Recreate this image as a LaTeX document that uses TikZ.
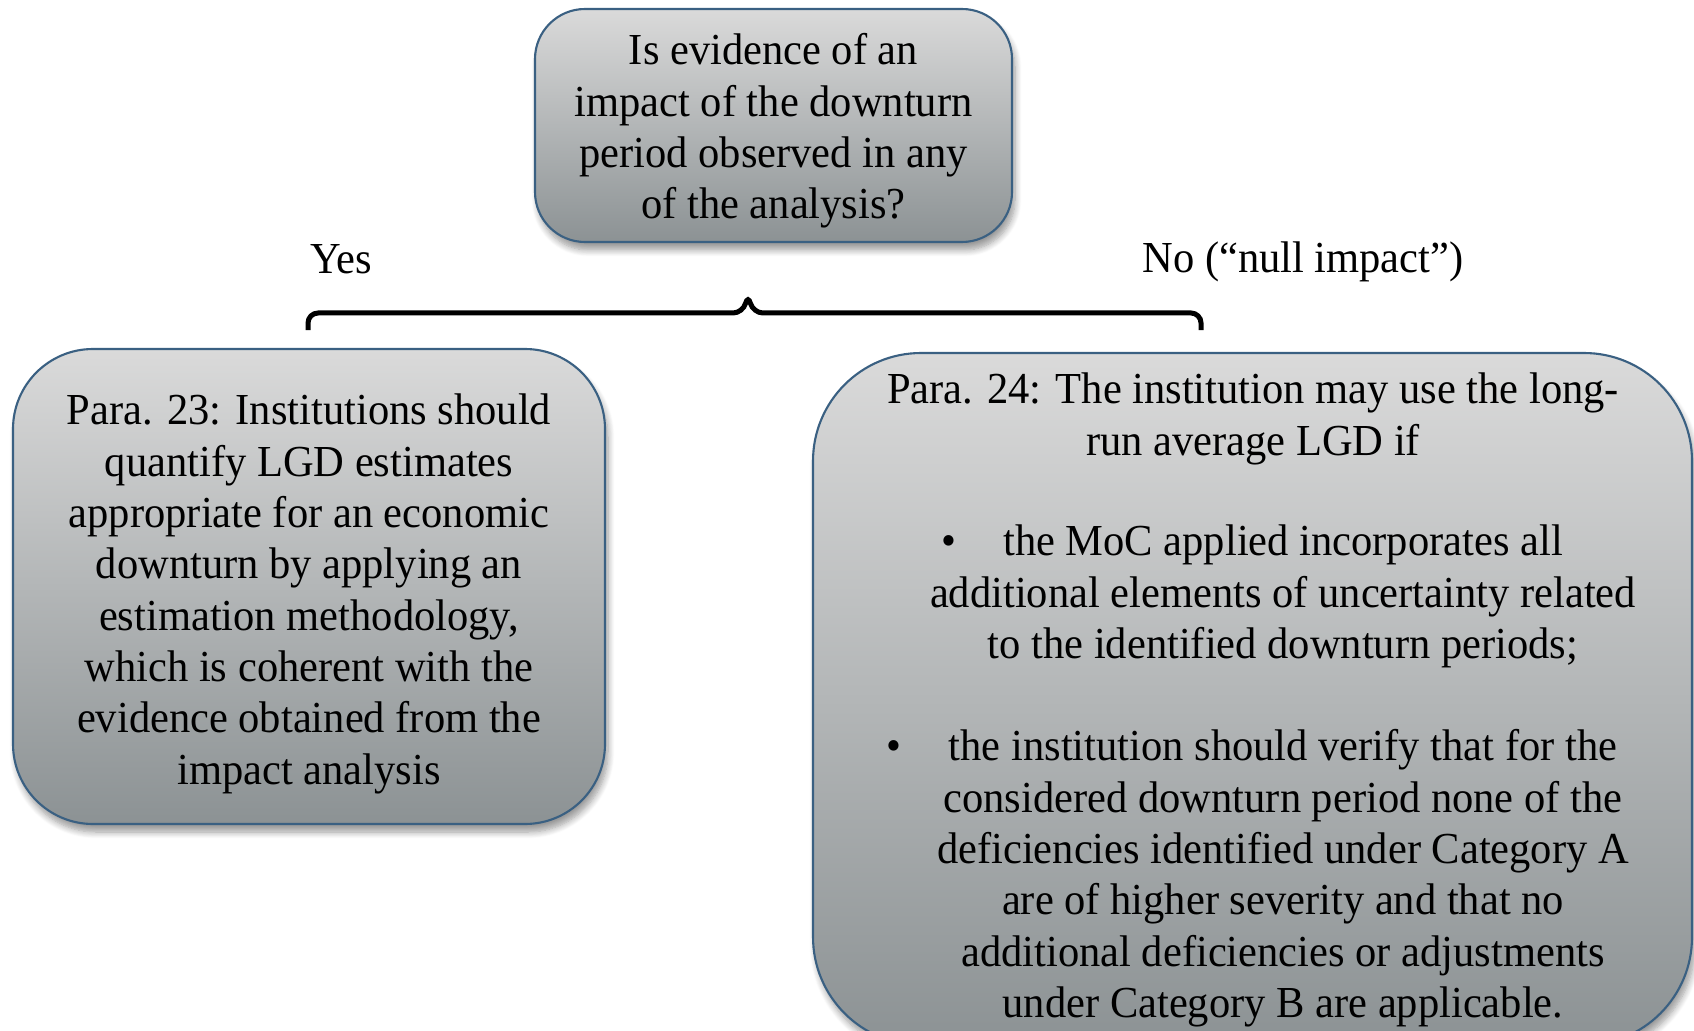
\documentclass[tikz,border=0pt]{standalone}
\usepackage{fontspec}
\setmainfont[FakeStretch=0.96]{Liberation Serif}
\usetikzlibrary{shadows.blur}

\definecolor{boxtop}{RGB}{218,218,218}
\definecolor{boxbottom}{RGB}{140,146,148}
\definecolor{boxedge}{RGB}{58,96,130}

\tikzset{
  greybox/.style={draw=boxedge, line width=0.6pt, top color=boxtop, bottom color=boxbottom,
    rounded corners=#1,
    blur shadow={shadow xshift=0.3mm, shadow yshift=-0.8mm, shadow blur steps=8, shadow opacity=40}},
  bracket/.style={line width=0.5mm, rounded corners=1mm}
}

\begin{document}
\begin{tikzpicture}[x=0.1mm, y=-0.1mm, every node/.style={font=\fontsize{12.6}{14.6}\selectfont, align=center}]
    \useasboundingbox (0,0) rectangle (1694,1030);
    \draw
    (773.5,125.5)node(query)[greybox=5mm, minimum width=47.7mm, minimum height=23.3mm]{}
    (309,586.5)node(yesbox)[greybox=8mm, minimum width=59.2mm, minimum height=47.5mm]{}
    (1252.5,699)node(nobox)[greybox=10.8mm, minimum width=87.9mm, minimum height=69.2mm]{};
    %
    \node(querytext) at (773.5,131){Is evidence of an\\impact of the downturn\\period observed in any\\of the analysis?};
    \node(yestext) at (309,594){Para. 23: Institutions should\\quantify LGD estimates\\appropriate for an economic\\downturn by applying an\\estimation methodology,\\which is coherent with the\\evidence obtained from the\\impact analysis};
    \node(nohead) at (1253,419){Para. 24: The institution may use the long-\\run average LGD if};
    \node(nolist) at (1283,776){\llap{\textbullet\hspace{4.7mm}}the MoC applied incorporates all\\additional elements of uncertainty related\\to the identified downturn periods;\\[14.6pt]\llap{\textbullet\hspace{4.7mm}}the institution should verify that for the\\considered downturn period none of the\\deficiencies identified under Category A\\are of higher severity and that no\\additional deficiencies or adjustments\\under Category B are applicable.};
    \node(yes) at (341,259){Yes};
    \node(no) at (1303,262){No (“null impact”)};
    %
    \coordinate(bl) at (308,330);
    \coordinate(tip) at (748,294);
    \coordinate(br) at (1201,330);
    \draw[bracket] (bl) -- ++(0,-17) -- ++(435,0) -- (tip) -- ++(5,19) -| (br);
\end{tikzpicture}
\end{document}
